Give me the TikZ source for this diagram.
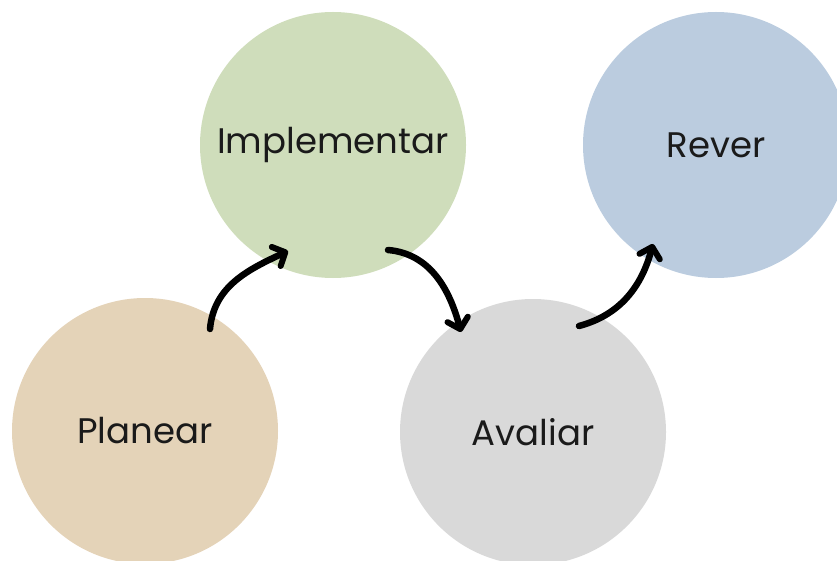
\documentclass[tikz,border=0pt]{standalone}
\usepackage{fontspec}
\setmainfont{Poppins}
\usetikzlibrary{arrows.meta}
\definecolor{cplan}{HTML}{E4D3B8}
\definecolor{cimpl}{HTML}{CFDDBB}
\definecolor{caval}{HTML}{D9D9D9}
\definecolor{crev}{HTML}{BBCCDF}
\definecolor{ctext}{HTML}{1A1A1A}
\tikzset{
  stage/.style={circle, minimum size=266pt, inner sep=0pt, text=ctext, font=\fontsize{35.5}{40}\selectfont},
  flow/.style={line width=6.5pt, line cap=round, -{Straight Barb[round, length=10pt, width=21pt, line width=6pt]}}
}
\begin{document}
\begin{tikzpicture}[x=1pt,y=-1pt]
\useasboundingbox (0,0) rectangle (837,561);
\begin{scope}
\clip (0,0) rectangle (837,561);
\node[stage, fill=cplan] (plan) at (145,431) {Planear};
\node[stage, fill=cimpl] (impl) at (333,145) {Implementar};
\node[stage, fill=caval] (aval) at (533,432) {Avaliar};
\node[stage, fill=crev]  (rev)  at (716,145) {Rever};
\end{scope}
\coordinate (a1s) at (210,329);
\coordinate (a1e) at (288,251);
\coordinate (a2s) at (388,250);
\coordinate (a2e) at (461,332);
\coordinate (a3s) at (579,326);
\coordinate (a3e) at (653,244);
\draw[flow] (a1s) to[out=85,in=205] (a1e);
\draw[flow] (a2s) to[out=-5,in=105] (a2e);
\draw[flow] (a3s) to[out=15,in=-105] (a3e);
\end{tikzpicture}
\end{document}
